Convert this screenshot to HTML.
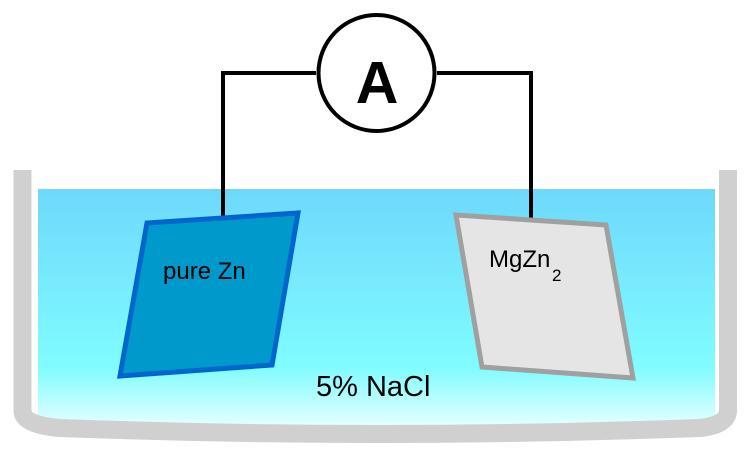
<!DOCTYPE html>
<html><head><meta charset="utf-8"><style>html,body{margin:0;padding:0;background:#fff;width:752px;height:459px;overflow:hidden}</style></head>
<body>
<svg width="752" height="459" viewBox="0 0 752 459" xmlns="http://www.w3.org/2000/svg">
<defs>
<linearGradient id="w" x1="0" y1="0" x2="0" y2="1">
<stop offset="0" stop-color="#6ed8fc"/>
<stop offset="0.75" stop-color="#80fcff"/>
<stop offset="1" stop-color="#e6ffff"/>
</linearGradient>
</defs>
<rect x="38" y="189" width="677" height="238" fill="url(#w)"/>
<path d="M22.5 170 V410 Q22 425 60 428 Q376 440 700 428 Q728 425 728 410 V170" fill="none" stroke="#d0d0d0" stroke-width="18"/>
<path d="M223 222 V73 H316 M437 73 H531 V220" fill="none" stroke="#000" stroke-width="4"/>
<circle cx="376.5" cy="73" r="58" fill="#fff" stroke="#000" stroke-width="4"/>
<text x="377" y="103" text-anchor="middle" font-family="Liberation Sans, sans-serif" font-weight="bold" font-size="59">A</text>
<polygon points="147,223 298,213 272,365 120,376" fill="#0099cc" stroke="#0066cc" stroke-width="5"/>
<polygon points="456,215 606,225 633,378 482,367" fill="#e5e5e5" stroke="#a0a0a0" stroke-width="5"/>
<text x="163" y="279" font-family="Liberation Sans, sans-serif" font-size="24">pure Zn</text>
<text x="489" y="267" font-family="Liberation Sans, sans-serif" font-size="24">MgZn<tspan x="552" y="281" font-size="17">2</tspan></text>
<text x="316" y="396" font-family="Liberation Sans, sans-serif" font-size="29">5% NaCl</text>
</svg>
</body></html>
